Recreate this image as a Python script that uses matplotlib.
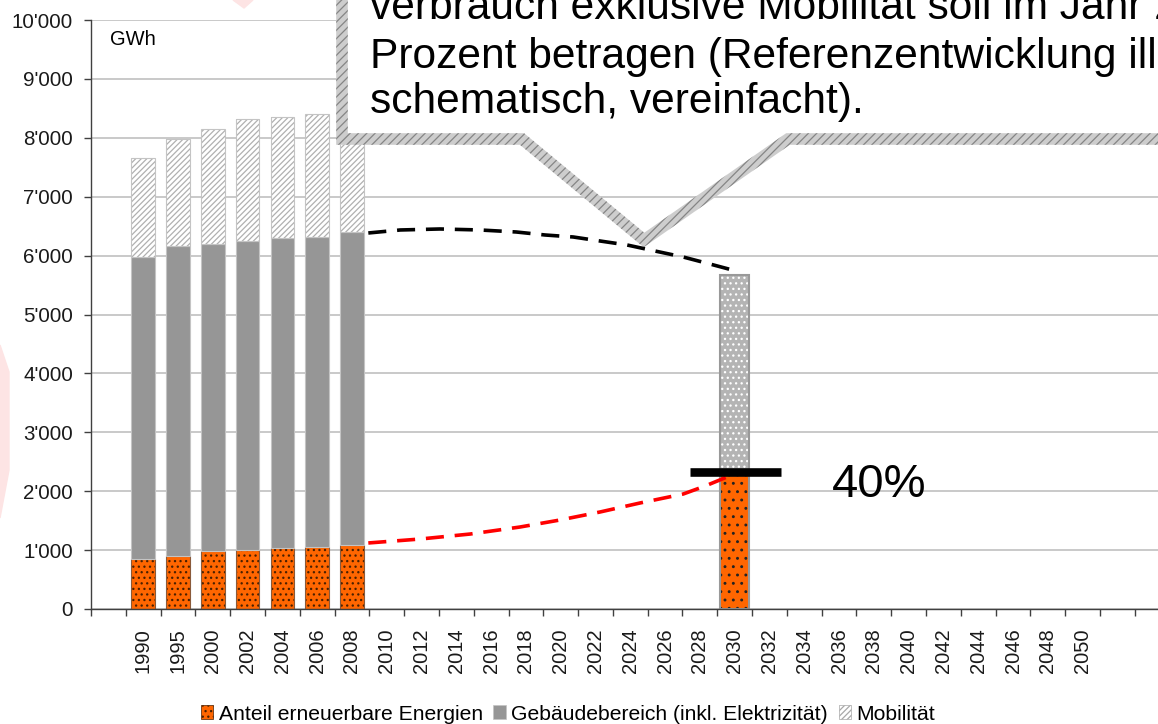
import numpy as np
import matplotlib.pyplot as plt
from matplotlib.patches import Patch, Polygon, Rectangle
from matplotlib.transforms import Affine2D
from matplotlib.ticker import FuncFormatter

plt.rcParams['font.family'] = ['Liberation Sans', 'DejaVu Sans']
plt.rcParams['hatch.linewidth'] = 0.9

# Kategorien der x-Achse (leerer Platz vorne und hinten wie im Original)
categories = ['', '1990', '1995', '2000', '2002', '2004', '2006', '2008', '2010',
              '2012', '2014', '2016', '2018', '2020', '2022', '2024', '2026',
              '2028', '2030', '2032', '2034', '2036', '2038', '2040', '2042',
              '2044', '2046', '2048', '2050', '']

# Historische Werte in GWh
hist_years = ['1990', '1995', '2000', '2002', '2004', '2006', '2008']
renewable = [845, 902, 988, 1005, 1028, 1057, 1091]
buildings = [5138, 5261, 5209, 5249, 5277, 5265, 5306]
mobility = [1679, 1811, 1952, 2065, 2043, 2077, 2053]

# Zielwert 2030
target_year = '2030'
target_renewable = 2275
target_rest = 3396
target_mark = 2334

# Referenzentwicklung (schematisch), x in Kategorie-Positionen
total_curve_x = [7.47, 8.39, 9.53, 10.68, 11.72, 12.55, 13.36, 14.13, 14.91, 15.71, 16.52, 17.29, 17.93]
total_curve_y = [6384, 6435, 6452, 6435, 6401, 6350, 6316, 6248, 6180, 6078, 5976, 5857, 5756]
ren_curve_x = [7.47, 8.96, 10.40, 11.83, 12.98, 14.13, 15.28, 16.52, 17.15, 17.78]
ren_curve_y = [1121, 1188, 1273, 1392, 1511, 1647, 1800, 1952, 2088, 2241]

yticks = [0, 1000, 2000, 3000, 4000, 5000, 6000, 7000, 8000, 9000, 10000]

W, H = 1158, 724
fig = plt.figure(figsize=(W / 100, H / 100), dpi=100)
px = Affine2D().scale(1 / W, -1 / H).translate(0, 1) + fig.transFigure

# blasses Wasserzeichen im Hintergrund
fig.patches.append(Polygon([(0, 345), (9, 372), (9, 470), (0, 518)], closed=True,
                           transform=px, color='#fde4e4', zorder=0))
fig.patches.append(Polygon([(233, 0), (253, 0), (244, 8)], closed=True,
                           transform=px, color='#fde4e4', zorder=0))

ax = fig.add_axes([91 / W, 1 - 609 / H, (W - 91) / W, 589 / H])

xh = [categories.index(y) for y in hist_years]
x30 = categories.index(target_year)
ren = np.array(renewable)
bld = np.array(buildings)
mob = np.array(mobility)

w = 0.68
ax.bar(xh, ren, w, color='#ff6600', edgecolor='#4a2000', hatch='...', lw=0, zorder=2)
ax.bar(xh, ren, w, fill=False, edgecolor='#8a5a3a', lw=0.8, zorder=2)
ax.bar(xh, bld, w, bottom=ren, color='#969696', edgecolor='#c4c4c4', lw=0.8, zorder=2)
ax.bar(xh, mob, w, bottom=ren + bld, color='white', edgecolor='#b0b0b0', hatch='//////', lw=0, zorder=2)
ax.bar(xh, mob, w, bottom=ren + bld, fill=False, edgecolor='#c4c4c4', lw=0.8, zorder=2)

w30 = 0.82
ax.bar(x30, target_renewable, w30, color='#ff6600', edgecolor='#222222', hatch='..', lw=0, zorder=2)
ax.bar(x30, target_renewable, w30, fill=False, edgecolor='#999999', lw=1.5, zorder=2)
ax.bar(x30, target_rest, w30, bottom=target_renewable, color='#b4b4b4', edgecolor='white',
       hatch='...', lw=0, zorder=2)
ax.bar(x30, target_rest, w30, bottom=target_renewable, fill=False, edgecolor='#999999', lw=1.5, zorder=2)

# Sprechblase
def ring(points, hw):
    p = np.array(points, float)
    a, b = [], []
    for k in range(len(p)):
        ns = []
        if k > 0:
            d = p[k] - p[k - 1]
            d /= np.hypot(*d)
            ns.append(np.array([-d[1], d[0]]))
        if k < len(p) - 1:
            d = p[k + 1] - p[k]
            d /= np.hypot(*d)
            ns.append(np.array([-d[1], d[0]]))
        if len(ns) == 2:
            m = ns[0] + ns[1]
            off = m * hw / (1 + np.dot(ns[0], ns[1]))
        else:
            off = ns[0] * hw
        a.append(p[k] + off)
        b.append(p[k] - off)
    return np.vstack([a, b[::-1]])

ax.add_patch(Rectangle((342, -40), 950, 179, transform=px, facecolor='white',
                       edgecolor='none', clip_on=False, zorder=3))
border = [(342, -40), (342, 139), (522, 139), (644, 240), (788, 139), (1300, 139)]
ax.add_patch(Polygon(ring(border, 5.8), closed=True, transform=px, facecolor='#cdcdcd',
                     edgecolor='#858585', hatch='////', lw=0, clip_on=False, zorder=3))

fs_box = 30.6
fig.text(370 / W, 1 - 19 / H, 'verbrauch exklusive Mobilität soll im Jahr 2030 40',
         fontsize=fs_box, va='baseline', zorder=6)
fig.text(370 / W, 1 - 68 / H, 'Prozent betragen (Referenzentwicklung illustrativ,',
         fontsize=fs_box, va='baseline', zorder=6)
fig.text(370 / W, 1 - 113 / H, 'schematisch, vereinfacht).',
         fontsize=fs_box, va='baseline', zorder=6)

# Entwicklungslinien
ax.plot(total_curve_x, total_curve_y, color='black', lw=2.6, ls=(0, (5, 3)), zorder=4)
ax.plot(ren_curve_x, ren_curve_y, color='#ff0000', lw=2.6, ls=(0, (5, 3)), zorder=4)

ax.hlines(target_mark, x30 - 1.28, x30 + 1.33, color='black', lw=6.2, zorder=5)
ax.text(x30 + 2.8, 1902, '40%', fontsize=34, va='baseline', ha='left', zorder=5)
fig.text(110 / W, 1 - 45 / H, 'GWh', fontsize=14.5, va='baseline')

# Achsen
ax.set_xlim(-0.5, (W - 90.8) / 34.8 - 0.5)
ax.set_ylim(0, 10000)
ax.set_yticks(yticks)
ax.yaxis.set_major_formatter(FuncFormatter(lambda v, p: f"{int(v):,}".replace(',', "'")))
ax.set_xticks(range(len(categories)))
ax.set_xticklabels(categories, rotation=90)
ax.set_xticks(np.arange(-0.5, len(categories), 1), minor=True)
ax.tick_params(axis='x', which='major', length=0, pad=13.7, labelsize=14.5, labelcolor='#1a1a1a')
ax.tick_params(axis='x', which='minor', length=5, width=1, color='#404040', direction='out')
ax.tick_params(axis='y', length=5, width=1, color='#404040', pad=8, labelsize=14.8,
               labelcolor='#1a1a1a')
ax.grid(axis='y', color='#c0c0c0', lw=1.2, zorder=0)
ax.set_axisbelow(True)
for s in ['top', 'right']:
    ax.spines[s].set_visible(False)
for s in ['left', 'bottom']:
    ax.spines[s].set_color('#404040')
    ax.spines[s].set_linewidth(1.0)

handles = [
    Patch(facecolor='#ff6600', edgecolor='#4a2000', hatch='...', lw=0.5),
    Patch(facecolor='#969696', edgecolor='#c4c4c4', lw=0.5),
    Patch(facecolor='white', edgecolor='#a8a8a8', hatch='//////', lw=0.5),
]
labels = ['Anteil erneuerbare Energien', 'Gebäudebereich (inkl. Elektrizität)', 'Mobilität']
fig.legend(handles, labels, loc='center', bbox_to_anchor=(568 / W, 1 - 714 / H), ncol=3,
           frameon=False, fontsize=15.2, handlelength=0.6, handleheight=0.6,
           handletextpad=0.25, columnspacing=0.5, borderpad=0, borderaxespad=0)

fig.savefig('out.png', dpi=100)
